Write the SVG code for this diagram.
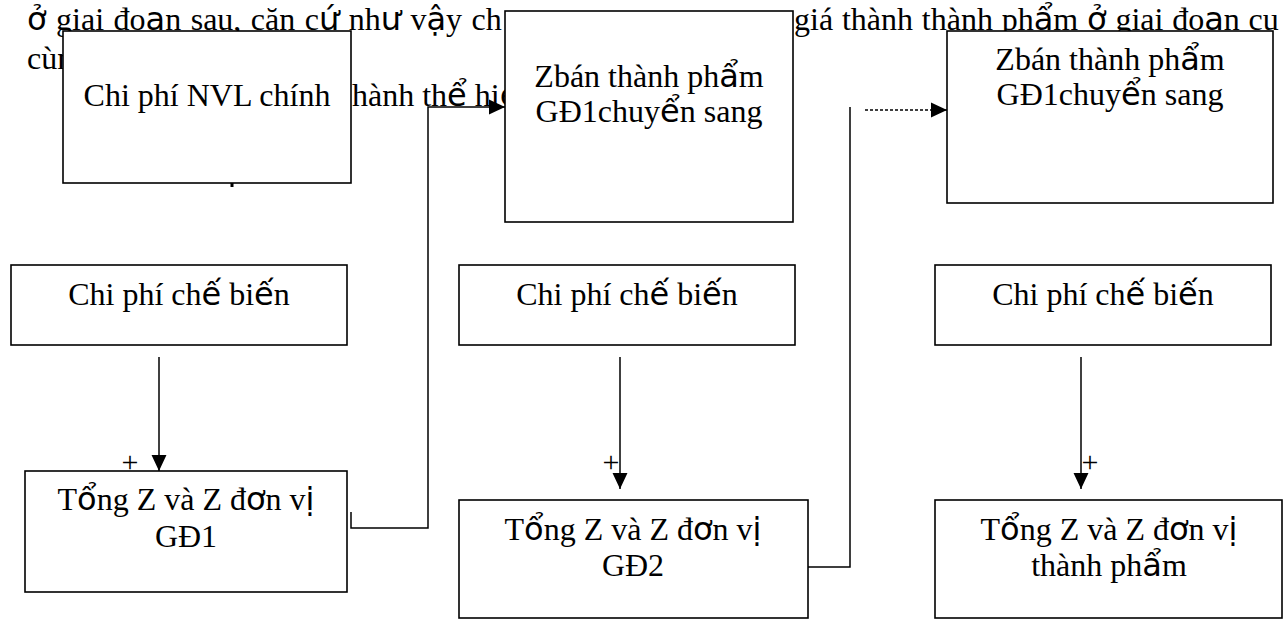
<svg xmlns="http://www.w3.org/2000/svg" width="1284" height="620" viewBox="0 0 1284 620">
<style>
.t{font-family:"Liberation Serif","Times New Roman",serif;font-size:32px;fill:#000}
.v{font-family:"DejaVu Sans",sans-serif}
.b{fill:#fff;stroke:#000;stroke-width:1.6}
.c{fill:none;stroke:#000;stroke-width:1.5}
.d{stroke-dasharray:3 2}
.p{font-family:"Liberation Serif","Times New Roman",serif;font-size:30px;fill:#000;text-anchor:middle}
</style>
<defs>
<marker id="ah" markerUnits="userSpaceOnUse" markerWidth="16" markerHeight="16" viewBox="0 0 15 14" refX="15" refY="7" orient="auto"><path d="M0,0 L15,7 L0,14 Z" fill="#000"/></marker>
</defs>
<rect width="1284" height="620" fill="#fff"/>
<g id="page-text">
<text class="t" x="27" y="30" word-spacing="1.5"><tspan class="v">ở</tspan> giai đo<tspan class="v">ạ</tspan>n sau, căn c<tspan class="v">ứ</tspan> nh<tspan class="v">ư</tspan> v<tspan class="v">ậ</tspan>y ch</text>
<text class="t" x="794" y="30" word-spacing="0.8">giá thành thành ph<tspan class="v">ẩ</tspan>m <tspan class="v">ở</tspan> giai đo<tspan class="v">ạ</tspan>n cu</text>
<text class="t" x="27" y="69">cùn</text>
<text class="t" x="352" y="106">hành th<tspan class="v">ể</tspan> hi<tspan class="v">ệ</tspan></text>
</g>
<g id="n-nvl">
<rect class="b" x="63" y="31" width="288" height="152"/>
<text class="t" x="207" y="106" text-anchor="middle">Chi phí NVL chính</text>
<rect x="230.5" y="183" width="3" height="4" fill="#000"/>
</g>
<g id="n-btp1">
<rect class="b" x="505" y="11" width="288" height="211"/>
<text class="t" x="649" y="87" text-anchor="middle">Zbán thành ph<tspan class="v">ẩ</tspan>m</text>
<text class="t" x="649" y="122" text-anchor="middle">GĐ1chuy<tspan class="v">ể</tspan>n sang</text>
</g>
<g id="n-btp2">
<rect class="b" x="947" y="31" width="326" height="172"/>
<text class="t" x="1110" y="70" text-anchor="middle">Zbán thành ph<tspan class="v">ẩ</tspan>m</text>
<text class="t" x="1110" y="105" text-anchor="middle">GĐ1chuy<tspan class="v">ể</tspan>n sang</text>
</g>
<g id="n-cb1">
<rect class="b" x="11" y="265" width="336" height="80"/>
<text class="t" x="179" y="305" text-anchor="middle">Chi phí ch<tspan class="v">ế</tspan> bi<tspan class="v">ế</tspan>n</text>
</g>
<g id="n-cb2">
<rect class="b" x="459" y="265" width="336" height="80"/>
<text class="t" x="627" y="305" text-anchor="middle">Chi phí ch<tspan class="v">ế</tspan> bi<tspan class="v">ế</tspan>n</text>
</g>
<g id="n-cb3">
<rect class="b" x="935" y="265" width="336" height="80"/>
<text class="t" x="1103" y="305" text-anchor="middle">Chi phí ch<tspan class="v">ế</tspan> bi<tspan class="v">ế</tspan>n</text>
</g>
<g id="n-gd1">
<rect class="b" x="25" y="471" width="322" height="121"/>
<text class="t" x="186" y="510" text-anchor="middle">T<tspan class="v">ổ</tspan>ng Z và Z đ<tspan class="v">ơ</tspan>n v<tspan class="v">ị</tspan></text>
<text class="t" x="186" y="547" text-anchor="middle">GĐ1</text>
</g>
<g id="n-gd2">
<rect class="b" x="459" y="500" width="349" height="118"/>
<text class="t" x="633" y="540" text-anchor="middle">T<tspan class="v">ổ</tspan>ng Z và Z đ<tspan class="v">ơ</tspan>n v<tspan class="v">ị</tspan></text>
<text class="t" x="633" y="576" text-anchor="middle">GĐ2</text>
</g>
<g id="n-tp">
<rect class="b" x="935" y="500" width="347" height="118"/>
<text class="t" x="1109" y="540" text-anchor="middle">T<tspan class="v">ổ</tspan>ng Z và Z đ<tspan class="v">ơ</tspan>n v<tspan class="v">ị</tspan></text>
<text class="t" x="1109" y="576" text-anchor="middle">thành ph<tspan class="v">ẩ</tspan>m</text>
</g>
<g id="connectors">
<path class="c" d="M159,357 V471" marker-end="url(#ah)"/>
<path class="c" d="M620,357 V489" marker-end="url(#ah)"/>
<path class="c" d="M1081,357 V489" marker-end="url(#ah)"/>
<path class="c" d="M351,512 V528 H428 V107 H505" marker-end="url(#ah)"/>
<path class="c" d="M808,567 H850 V107"/>
<path class="c d" d="M865,110 H947" marker-end="url(#ah)"/>
<text class="p" x="130" y="472">+</text>
<text class="p" x="611" y="472">+</text>
<text class="p" x="1090" y="472">+</text>
</g>
</svg>
